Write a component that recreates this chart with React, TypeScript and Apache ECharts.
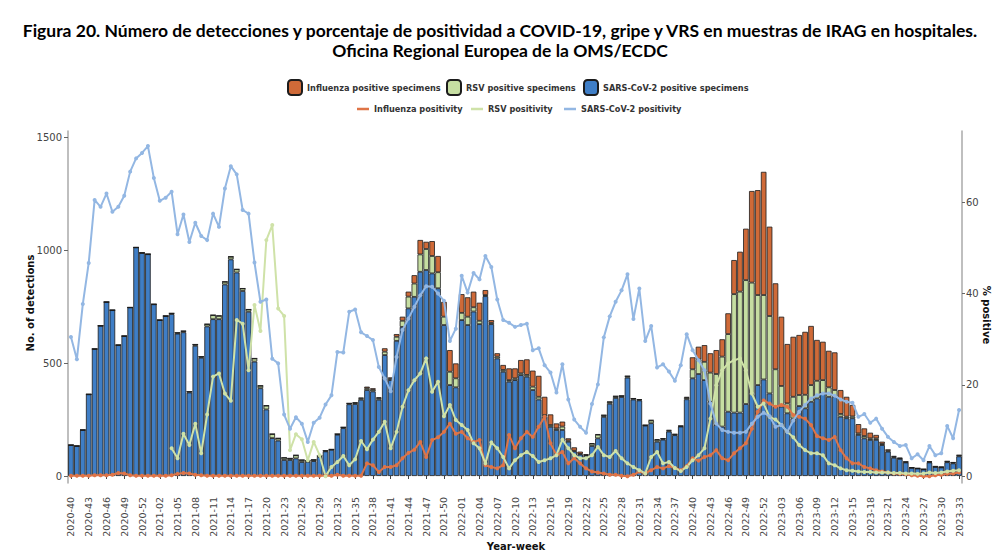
import React, { useEffect, useRef } from "react";
import * as echarts from "echarts";

// ---- categories (ISO year-week) ----
const weekSpans: [number, number, number][] = [
  [2020, 40, 53],
  [2021, 1, 52],
  [2022, 1, 52],
  [2023, 1, 33],
];
const weekLabels: string[] = [];
for (const [yr, w0, w1] of weekSpans) {
  for (let w = w0; w <= w1; w++) weekLabels.push(`${yr}-${String(w).padStart(2, "0")}`);
}

// ---- specimens (stacked bars) ----
const sarsSpecimens = [
  137, 133, 204, 362, 563, 666, 771, 735, 580, 620,
  747, 1013, 989, 983, 761, 691, 709, 718, 631, 637,
  370, 577, 524, 663, 695, 695, 849, 960, 902, 820,
  728, 507, 389, 295, 168, 157, 71, 71, 78, 62,
  63, 66, 85, 109, 116, 183, 212, 318, 319, 338,
  381, 375, 338, 536, 425, 599, 661, 743, 794, 905,
  913, 898, 832, 669, 403, 393, 691, 669, 729, 673,
  797, 673, 521, 462, 418, 425, 447, 440, 381, 339,
  263, 218, 204, 204, 152, 109, 95, 89, 133, 167,
  262, 320, 346, 350, 436, 339, 335, 223, 234, 152,
  161, 197, 181, 219, 340, 433, 452, 425, 329, 226,
  219, 285, 281, 281, 319, 363, 403, 428, 366, 307,
  307, 278, 255, 310, 300, 329, 344, 366, 351, 351,
  263, 256, 256, 182, 167, 160, 160, 137, 108, 81,
  76, 60, 36, 33, 29, 60, 40, 38, 61, 56, 87,
];
const rsvSpecimens = [
  0, 0, 0, 0, 0, 0, 0, 0, 0, 0,
  0, 0, 0, 0, 0, 0, 0, 3, 4, 5,
  4, 6, 5, 10, 18, 15, 12, 12, 14, 11,
  10, 14, 11, 17, 18, 10, 10, 7, 14, 9,
  5, 6, 4, 3, 2, 3, 4, 4, 5, 6,
  8, 7, 7, 15, 6, 18, 27, 52, 59, 77,
  93, 77, 71, 37, 59, 40, 32, 37, 19, 15,
  5, 6, 8, 8, 7, 8, 8, 8, 15, 12,
  7, 8, 7, 15, 5, 3, 3, 3, 10, 16,
  7, 8, 7, 5, 6, 4, 3, 2, 12, 8,
  4, 4, 3, 2, 6, 40, 65, 81, 129, 226,
  310, 344, 525, 536, 549, 494, 399, 374, 343, 166,
  92, 44, 96, 49, 60, 74, 78, 59, 42, 30,
  12, 7, 8, 7, 10, 7, 7, 5, 4, 4,
  2, 2, 1, 1, 1, 2, 1, 1, 3, 3, 4,
];
const fluSpecimens = [
  0, 0, 0, 0, 0, 0, 0, 0, 1, 1,
  0, 0, 0, 0, 0, 0, 0, 0, 0, 1,
  0, 0, 0, 0, 0, 0, 0, 0, 0, 0,
  0, 0, 0, 0, 0, 0, 0, 0, 0, 0,
  0, 0, 0, 0, 0, 0, 0, 0, 2, 3,
  7, 7, 4, 15, 6, 12, 18, 22, 37, 64,
  32, 66, 72, 66, 96, 66, 83, 86, 69, 80,
  22, 12, 15, 22, 52, 44, 59, 69, 71, 93,
  81, 47, 22, 22, 10, 15, 10, 5, 2, 2,
  1, 1, 1, 1, 1, 1, 2, 1, 2, 3,
  2, 3, 2, 2, 5, 53, 56, 74, 86, 106,
  77, 92, 151, 177, 228, 406, 465, 546, 396, 381,
  307, 263, 266, 266, 279, 262, 181, 170, 162, 167,
  106, 88, 51, 41, 34, 25, 15, 10, 6, 4,
  3, 2, 1, 0, 0, 4, 3, 2, 2, 2, 2,
];

// ---- positivity (%) ----
const fluPositivity = [
  0.1, 0.1, 0.1, 0.1, 0.2, 0.2, 0.2, 0.3, 0.7, 0.6,
  0.2, 0.1, 0.1, 0.1, 0.1, 0.1, 0.1, 0.2, 0.5, 0.7,
  0.6, 0.3, 0.2, 0.1, 0.1, 0.1, 0.1, 0.1, 0.1, 0.1,
  0.1, 0.1, 0.1, 0.1, 0.1, 0.1, 0.1, 0.1, 0.1, 0.1,
  0.1, 0.1, 0.1, 0.1, 0.1, 0.3, 0.1, 0.1, 0.1, 0.1,
  2.8, 2.4, 0.9, 2.0, 2.0, 2.4, 3.9, 5.1, 5.8, 7.5,
  4.2, 7.9, 8.5, 9.7, 11.5, 9.3, 9.7, 8.3, 7.5, 7.9,
  2.4, 2.0, 1.7, 2.4, 9.0, 6.1, 8.3, 9.7, 8.6, 10.8,
  13.0, 7.2, 4.6, 5.3, 2.8, 3.9, 2.8, 1.7, 1.0, 0.8,
  0.6, 0.3, 0.3, 0.1, 0.0, 0.3, 1.0, 0.6, 1.3, 2.0,
  1.7, 2.2, 1.8, 1.3, 2.2, 3.9, 3.4, 4.2, 4.6, 5.7,
  3.9, 3.5, 5.0, 6.1, 7.2, 10.4, 14.1, 16.6, 15.9, 15.2,
  15.6, 15.2, 13.4, 13.0, 12.6, 11.2, 8.8, 8.3, 7.9, 8.6,
  5.7, 3.9, 2.8, 2.8, 2.0, 1.7, 1.3, 1.0, 0.8, 0.6,
  0.5, 0.4, 0.2, 0.1, 0.0, 0.0, 0.2, 0.3, 0.5, 0.6, 0.8,
];
const rsvPositivity: (number | null)[] = [
  null, null, null, null, null, null, null, null, null, null,
  null, null, null, null, null, null, null, 6.1, 3.9, 9.3,
  6.8, 11.5, 5.0, 13.5, 21.8, 22.5, 18.1, 16.5, 34.2, 33.4,
  23.2, 37.5, 31.8, 51.7, 55.0, 36.7, 35.1, 5.7, 9.2, 8.1,
  3.5, 7.5, 4.6, 0.0, 2.0, 3.1, 4.4, 2.4, 3.7, 7.7,
  5.9, 8.0, 9.7, 11.9, 6.1, 9.7, 15.2, 18.8, 21.0, 22.5,
  25.8, 18.5, 20.7, 13.1, 15.6, 12.3, 11.2, 10.1, 7.2, 6.1,
  2.8, 7.4, 6.1, 4.2, 1.7, 3.5, 4.6, 5.3, 4.4, 3.1,
  3.5, 3.9, 4.6, 8.0, 6.1, 4.6, 3.9, 3.9, 4.6, 6.4,
  4.6, 4.2, 5.5, 3.9, 2.8, 2.0, 1.3, 0.6, 4.2, 5.3,
  2.8, 3.1, 1.8, 1.1, 2.0, 3.5, 4.6, 6.1, 12.6, 19.9,
  23.2, 24.7, 25.4, 25.8, 23.2, 18.1, 15.2, 15.9, 13.0, 12.4,
  11.2, 9.7, 8.5, 6.8, 5.7, 5.0, 5.0, 4.6, 2.8, 2.4,
  1.7, 1.3, 1.2, 1.0, 0.9, 0.9, 0.8, 0.8, 0.8, 0.7,
  0.7, 0.6, 0.6, 0.5, 0.6, 0.8, 0.7, 0.8, 1.0, 1.2, 1.3,
];
const sarsPositivity = [
  30.5, 25.6, 37.7, 46.7, 60.5, 59.0, 61.9, 57.9, 59.0, 61.4,
  66.7, 69.6, 70.8, 72.3, 65.3, 60.3, 61.0, 62.3, 53.0, 57.3,
  51.3, 55.5, 52.6, 51.7, 57.5, 54.6, 63.0, 67.9, 66.1, 58.3,
  57.5, 46.8, 38.2, 38.7, 25.7, 24.7, 13.5, 10.4, 12.9, 11.5,
  7.5, 11.7, 12.8, 15.7, 17.7, 27.2, 27.1, 36.0, 36.5, 31.5,
  30.7, 29.8, 23.9, 21.4, 18.6, 26.1, 32.0, 34.5, 37.1, 39.6,
  41.6, 41.5, 40.0, 38.4, 29.6, 32.3, 43.9, 40.2, 44.5, 43.1,
  48.2, 45.8, 38.7, 34.2, 33.6, 32.7, 33.1, 33.4, 27.6, 28.0,
  24.3, 22.7, 18.3, 24.5, 16.8, 12.4, 10.8, 9.5, 15.8, 20.1,
  30.4, 35.0, 38.2, 40.7, 44.2, 34.4, 41.1, 29.6, 32.9, 23.8,
  24.5, 22.9, 20.9, 24.3, 31.1, 27.6, 25.4, 23.2, 15.9, 11.5,
  10.1, 9.7, 9.5, 9.5, 9.7, 11.5, 13.0, 13.9, 13.1, 10.8,
  11.2, 9.7, 12.2, 14.1, 15.6, 17.0, 17.7, 18.1, 18.1, 17.6,
  16.8, 16.3, 16.1, 13.0, 13.6, 11.7, 12.6, 10.4, 8.6, 7.5,
  6.6, 6.8, 3.9, 4.8, 3.5, 6.6, 4.6, 5.0, 11.0, 8.3, 14.5,
];

const leftTicks = [0, 500, 1000, 1500];
const rightTicks = [0, 20, 40, 60];

const C = {
  fluBar: "#cf6a38",
  rsvBar: "#c6dea2",
  sarsBar: "#3f7ec6",
  fluLine: "#df7447",
  rsvLine: "#cfe2a8",
  sarsLine: "#93b7e3",
  border: "#1c1c1c",
};

const FONT = "DejaVu Sans";

export default function App() {
  const ref = useRef<HTMLDivElement>(null);
  useEffect(() => {
    const chart = echarts.init(ref.current!, null, { renderer: "svg" });
    const barStyle = (color: string) => ({ color, borderColor: C.border, borderWidth: 0.8 });
    const lineSeries = (name: string, data: any[], color: string) => ({
      type: "line",
      name,
      yAxisIndex: 1,
      data,
      symbol: "circle",
      symbolSize: 4,
      showSymbol: true,
      showAllSymbol: true,
      connectNulls: false,
      lineStyle: { width: 2, color },
      itemStyle: { color },
      z: 5,
    });
    const legendText = { fontFamily: FONT, fontWeight: "bold", fontSize: 8.2, color: "#333" };
    const sqLegend = (name: string, left: number) => ({
      data: [name], left, top: 79, itemWidth: 14, itemHeight: 15, selectedMode: false,
      textStyle: legendText, padding: 0,
    });
    const lnLegend = (name: string, left: number) => ({
      data: [name], left, top: 105, itemWidth: 12, itemHeight: 2.5, icon: "rect", selectedMode: false,
      textStyle: legendText, padding: 0,
    });
    const plain = (v: number) => String(v);
    chart.setOption({
      animation: false,
      backgroundColor: "#ffffff",
      grid: { left: 68, right: 37, top: 131, bottom: 73, containLabel: false },
      legend: [
        sqLegend("Influenza positive specimens", 287),
        sqLegend("RSV positive specimens", 446),
        sqLegend("SARS-CoV-2 positive specimens", 583),
        lnLegend("Influenza positivity", 357),
        lnLegend("RSV positivity", 471),
        lnLegend("SARS-CoV-2 positivity", 564),
      ],
      xAxis: {
        type: "category",
        data: weekLabels,
        boundaryGap: true,
        offset: 11,
        axisLine: { show: false },
        axisTick: { show: true, interval: 2, alignWithLabel: true, length: 3, lineStyle: { color: "#444", width: 1 } },
        axisLabel: { interval: 2, rotate: 90, fontFamily: FONT, fontSize: 9.5, color: "#444", margin: 3 },
        splitLine: { show: false },
      },
      yAxis: [
        {
          type: "value",
          position: "left",
          min: -31,
          max: 1529,
          axisLine: { show: true, lineStyle: { color: "#aaaaaa", width: 1.5 } },
          axisTick: { show: true, customValues: leftTicks, length: 4, lineStyle: { color: "#666" } },
          axisLabel: { customValues: leftTicks, formatter: plain, fontFamily: FONT, fontSize: 10, color: "#444", margin: 6 },
          splitLine: { show: false },
        },
        {
          type: "value",
          position: "right",
          min: -1.5,
          max: 75.6,
          axisLine: { show: true, lineStyle: { color: "#aaaaaa", width: 1.5 } },
          axisTick: { show: true, customValues: rightTicks, length: 3, lineStyle: { color: "#666" } },
          axisLabel: { customValues: rightTicks, formatter: plain, fontFamily: FONT, fontSize: 10, color: "#444", margin: 4 },
          splitLine: { show: false },
        },
      ],
      series: [
        { type: "bar", name: "SARS-CoV-2 positive specimens", stack: "spec", data: sarsSpecimens, itemStyle: barStyle(C.sarsBar), barCategoryGap: "6%" },
        { type: "bar", name: "RSV positive specimens", stack: "spec", data: rsvSpecimens, itemStyle: barStyle(C.rsvBar), barCategoryGap: "6%" },
        { type: "bar", name: "Influenza positive specimens", stack: "spec", data: fluSpecimens, itemStyle: barStyle(C.fluBar), barCategoryGap: "6%" },
        lineSeries("Influenza positivity", fluPositivity, C.fluLine),
        lineSeries("RSV positivity", rsvPositivity, C.rsvLine),
        lineSeries("SARS-CoV-2 positivity", sarsPositivity, C.sarsLine),
      ],
      graphic: [
        {
          type: "text", x: 500, y: 30,
          style: {
            text: "Figura 20. Número de detecciones y porcentaje de positividad a COVID-19, gripe y VRS en muestras de IRAG en hospitales.",
            font: "bold 17.5px Lato", fill: "#000", align: "center", verticalAlign: "middle",
            textAlign: "center", textVerticalAlign: "middle",
          },
        },
        {
          type: "text", x: 500, y: 50,
          style: {
            text: "Oficina Regional Europea de la OMS/ECDC",
            font: "bold 17.5px Lato", fill: "#000", align: "center", verticalAlign: "middle",
            textAlign: "center", textVerticalAlign: "middle",
          },
        },
        {
          type: "text", x: 30.5, y: 303, rotation: Math.PI / 2,
          style: {
            text: "No. of detections", font: `bold 10px "${FONT}"`, fill: "#111",
            align: "center", verticalAlign: "middle", textAlign: "center", textVerticalAlign: "middle",
          },
        },
        {
          type: "text", x: 986, y: 315, rotation: -Math.PI / 2,
          style: {
            text: "% positive", font: `bold 10px "${FONT}"`, fill: "#111",
            align: "center", verticalAlign: "middle", textAlign: "center", textVerticalAlign: "middle",
          },
        },
        {
          type: "text", x: 516, y: 546,
          style: {
            text: "Year-week", font: `bold 10px "${FONT}"`, fill: "#111",
            align: "center", verticalAlign: "middle", textAlign: "center", textVerticalAlign: "middle",
          },
        },
      ],
    });
    return () => chart.dispose();
  }, []);
  return <div ref={ref} style={{ position: "absolute", left: 0, top: 0, width: 999, height: 556 }} />;
}
